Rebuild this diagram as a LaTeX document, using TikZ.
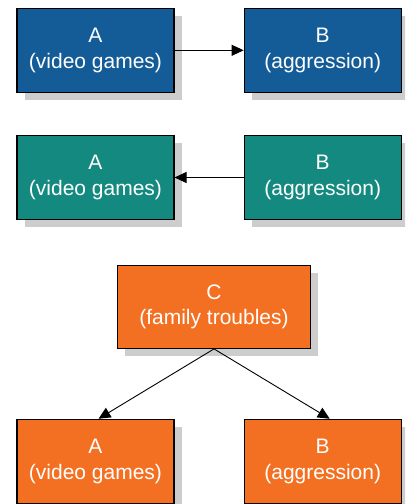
\documentclass[tikz,border=0pt]{standalone}
\usepackage{fontspec}
\setmainfont{Liberation Sans}
\usetikzlibrary{arrows.meta,shadows}
\definecolor{boxblue}{HTML}{145C97}
\definecolor{boxteal}{HTML}{14897F}
\definecolor{boxorange}{HTML}{F37022}
\definecolor{shadowgray}{HTML}{CDCDCE}
\tikzset{
  box/.style={draw=black, line width=1.1pt, text=white, align=center,
    minimum width=157pt, minimum height=84pt, inner sep=0pt,
    font=\fontsize{21}{25.5}\selectfont,
    drop shadow={shadow xshift=7.5pt, shadow yshift=-7.5pt, fill=shadowgray, opacity=1, draw=none}},
  conn/.style={line width=0.9pt, -{Triangle[length=12pt,width=11pt]}}
}
\begin{document}
\begin{tikzpicture}[x=1pt,y=-1pt]
\useasboundingbox (0,0) rectangle (405,504);
\clip (0,0) rectangle (405,504);
% row 1
\node[box, fill=boxblue] (a1) at (95.5,50.3) {A\\(video games)};
\node[box, fill=boxblue] (b1) at (322.7,50.3) {B\\(aggression)};
\draw[conn] (a1) -- (b1);
% row 2
\node[box, fill=boxteal] (a2) at (95.5,177.5) {A\\(video games)};
\node[box, fill=boxteal] (b2) at (322.7,177.5) {B\\(aggression)};
\draw[conn] (b2) -- (a2);
% row 3
\node[box, fill=boxorange, minimum width=193.4pt, minimum height=83.3pt] (c) at (214,306.7) {C\\(family troubles)};
\node[box, fill=boxorange] (a3) at (95.5,461.3) {A\\(video games)};
\node[box, fill=boxorange] (b3) at (322.7,461.3) {B\\(aggression)};
\coordinate (a3t) at ([xshift=3pt]a3.north);
\coordinate (b3t) at ([xshift=7pt]b3.north);
\draw[conn] (c.south) -- (a3t);
\draw[conn] (c.south) -- (b3t);
\end{tikzpicture}
\end{document}
